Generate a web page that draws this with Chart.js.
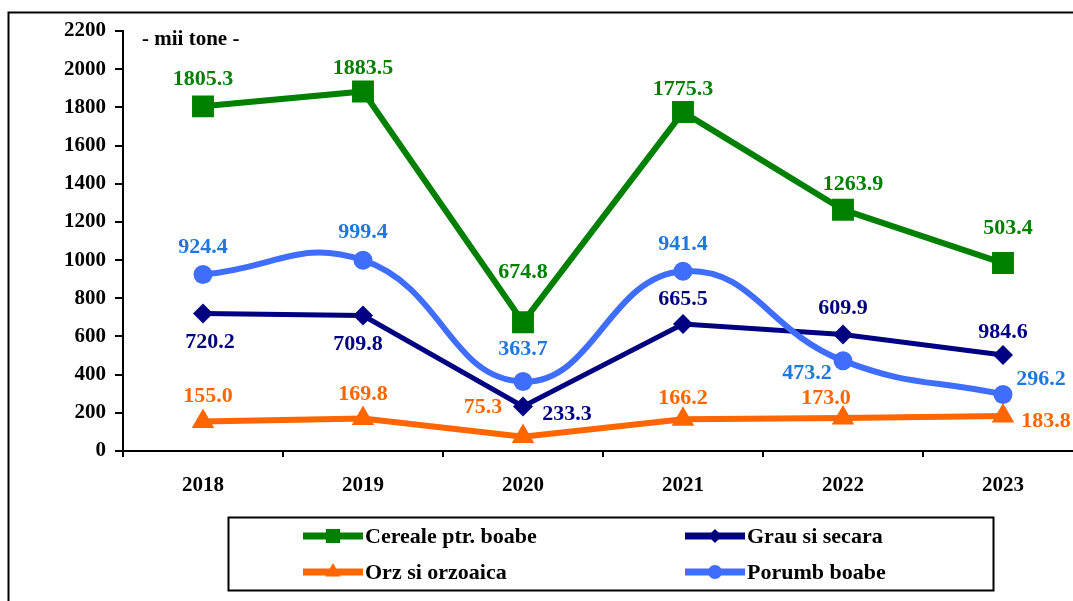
<!DOCTYPE html>
<html><head><meta charset="utf-8">
<script src="https://cdn.jsdelivr.net/npm/chart.js@4.4.1/dist/chart.umd.min.js"></script>
<style>html,body{margin:0;padding:0;overflow:hidden;background:#fff}#wrap{position:absolute;left:0;top:0;width:1100px;height:620px}canvas{display:block}</style>
</head><body><div id="wrap"><canvas id="c" width="1100" height="620" style="width:1100px;height:620px"></canvas></div>
<script>
const years = ['2018', '2019', '2020', '2021', '2022', '2023'];
const cereale = [1805.3, 1883.5, 674.8, 1775.3, 1263.9, 984.6];
const grau = [720.2, 709.8, 233.3, 665.5, 609.9, 503.4];
const orz = [155.0, 169.8, 75.3, 166.2, 173.0, 183.8];
const porumb = [924.4, 999.4, 363.7, 941.4, 473.2, 296.2];
const cerealeLabels = ['1805.3', '1883.5', '674.8', '1775.3', '1263.9', '503.4'];
const grauLabels = ['720.2', '709.8', '233.3', '665.5', '609.9', '984.6'];
const orzLabels = ['155.0', '169.8', '75.3', '166.2', '173.0', '183.8'];
const porumbLabels = ['924.4', '999.4', '363.7', '941.4', '473.2', '296.2'];
const yTicks = [0, 200, 400, 600, 800, 1000, 1200, 1400, 1600, 1800, 2000, 2200];
const unitText = '- mii tone -';

const FONT = '"Liberation Serif", "Times New Roman", serif';
const GREEN = '#008000', NAVY = '#000080', ORANGE = '#FF6600', BLUE = '#3F6EFF', BLUE_TXT = '#1F78E0';

const datasets = [
  { label: 'Cereale ptr. boabe', data: cereale, borderColor: GREEN, backgroundColor: GREEN, borderWidth: 6,
    pointStyle: 'rect', pointRadius: 15.5, pointBorderWidth: 0, tension: 0,
    labelTexts: cerealeLabels, labelColor: GREEN,
    labelOffsets: [[0,-27],[0,-23],[0,-50],[0,-23],[10,-25],[5,-35]],
    legendMarker: {style:'rect', r: 10} },
  { label: 'Porumb boabe', data: porumb, borderColor: BLUE, backgroundColor: BLUE, borderWidth: 6,
    pointStyle: 'circle', pointRadius: 9.5, pointBorderWidth: 0, tension: 0.45,
    labelTexts: porumbLabels, labelColor: BLUE_TXT,
    labelOffsets: [[0,-27],[0,-28],[0,-32],[0,-27],[-36,13],[38,-15]],
    legendMarker: {style:'circle', r: 7} },
  { label: 'Grau si secara', data: grau, borderColor: NAVY, backgroundColor: NAVY, borderWidth: 5,
    pointStyle: 'rectRot', pointRadius: 10, pointBorderWidth: 0, tension: 0,
    labelTexts: grauLabels, labelColor: NAVY,
    labelOffsets: [[7,29],[-5,29],[44,8],[0,-25],[0,-26],[0,-23]],
    legendMarker: {style:'rectRot', r: 7} },
  { label: 'Orz si orzoaica', data: orz, borderColor: ORANGE, backgroundColor: ORANGE, borderWidth: 6,
    pointStyle: 'triangle', pointRadius: 13, pointBorderWidth: 0, tension: 0,
    labelTexts: orzLabels, labelColor: ORANGE,
    labelOffsets: [[5,-25],[0,-24],[-40,-29],[0,-21],[-17,-20],[43,5]],
    legendMarker: {style:'triangle', r: 9} }
];

const legendLayout = [
  { name: 'Cereale ptr. boabe', x: 303, y: 536 },
  { name: 'Grau si secara', x: 685, y: 536 },
  { name: 'Orz si orzoaica', x: 303, y: 572 },
  { name: 'Porumb boabe', x: 685, y: 572 }
];

const framePlugin = {
  id: 'frame',
  beforeDraw(chart) {
    const ctx = chart.ctx;
    ctx.save();
    ctx.fillStyle = '#fff';
    ctx.fillRect(0, 0, chart.width, chart.height);
    ctx.strokeStyle = '#000';
    ctx.lineWidth = 2;
    ctx.strokeRect(8.5, 12.5, 1200, 800);
    ctx.restore();
  },
  afterDraw(chart) {
    const ctx = chart.ctx;
    ctx.save();
    ctx.fillStyle = '#000';
    ctx.font = 'bold 21px ' + FONT;
    ctx.textAlign = 'left';
    ctx.textBaseline = 'middle';
    ctx.fillText(unitText, 142, 40);
    ctx.strokeStyle = '#000';
    ctx.lineWidth = 2;
    ctx.strokeRect(228.5, 517.5, 765, 73);
    legendLayout.forEach(item => {
      const ds = chart.data.datasets.find(d => d.label === item.name);
      ctx.strokeStyle = ds.borderColor;
      ctx.lineWidth = 7;
      ctx.beginPath();
      ctx.moveTo(item.x, item.y);
      ctx.lineTo(item.x + 60, item.y);
      ctx.stroke();
      ctx.fillStyle = ds.borderColor;
      Chart.helpers.drawPoint(ctx, { pointStyle: ds.legendMarker.style, radius: ds.legendMarker.r, borderWidth: 0, rotation: 0 }, item.x + 30, item.y);
      ctx.fillStyle = '#000';
      ctx.font = 'bold 22px ' + FONT;
      ctx.textAlign = 'left';
      ctx.textBaseline = 'middle';
      ctx.fillText(item.name, item.x + 62, item.y + 1);
    });
    ctx.restore();
  },
  afterDatasetsDraw(chart) {
    const ctx = chart.ctx;
    ctx.save();
    ctx.font = 'bold 22px ' + FONT;
    ctx.textAlign = 'center';
    ctx.textBaseline = 'middle';
    chart.data.datasets.forEach((ds, i) => {
      const meta = chart.getDatasetMeta(i);
      meta.data.forEach((pt, j) => {
        const off = ds.labelOffsets[j];
        ctx.fillStyle = ds.labelColor;
        ctx.fillText(ds.labelTexts[j], pt.x + off[0], pt.y + off[1]);
      });
    });
    ctx.restore();
  }
};

new Chart(document.getElementById('c'), {
  type: 'line',
  data: { labels: years, datasets: datasets },
  plugins: [framePlugin],
  options: {
    responsive: false,
    animation: false,
    events: [],
    layout: { padding: { left: 0, top: 31, right: 17, bottom: 0 } },
    plugins: { legend: { display: false }, tooltip: { enabled: false }, title: { display: false } },
    scales: {
      x: {
        offset: true,
        afterFit(scale) { scale.height = 169; },
        grid: { offset: true, drawOnChartArea: false, tickLength: 6, color: '#000', lineWidth: 2 },
        border: { color: '#000', width: 2 },
        ticks: { color: '#000', font: { family: FONT, size: 21, weight: 'bold' }, padding: 16, maxRotation: 0 }
      },
      y: {
        min: 0, max: 2200,
        afterFit(scale) { scale.width = 123; },
        afterBuildTicks(scale) { scale.ticks = yTicks.map(v => ({ value: v })); },
        grid: { drawOnChartArea: false, tickLength: 8, color: '#000', lineWidth: 2 },
        border: { color: '#000', width: 2 },
        ticks: { color: '#000', font: { family: FONT, size: 21, weight: 'bold' }, padding: 9,
                 callback: v => String(v) }
      }
    }
  }
});
</script>
</body></html>
